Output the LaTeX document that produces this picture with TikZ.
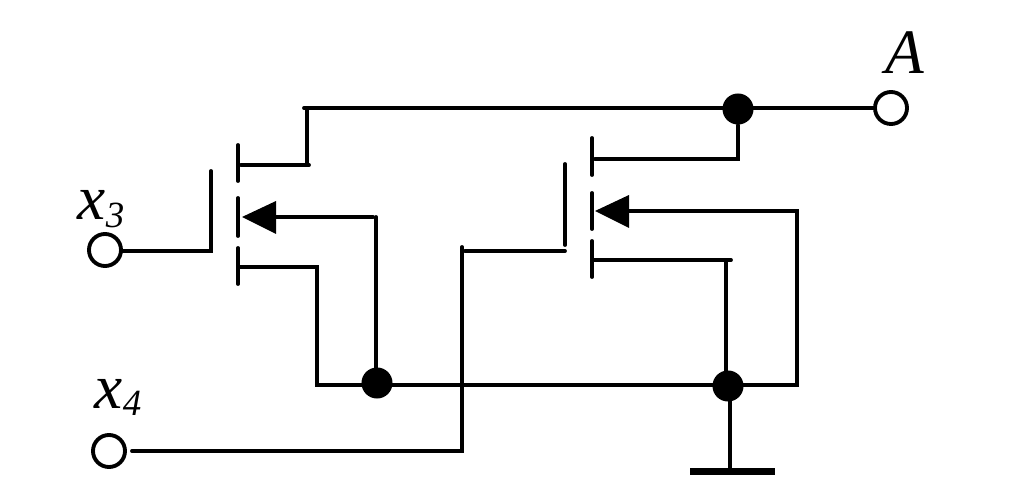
\documentclass[tikz,border=0pt]{standalone}
\usepackage{fontspec}
\setmainfont{Liberation Serif}
\newcommand{\subvar}[1]{\raisebox{-2.2pt}{\fontsize{10.5}{12}\selectfont #1}}
\begin{document}
\begin{tikzpicture}[x=0.01cm, y=-0.01cm,
        wire/.style={black, line width=1.1pt, line cap=round},
        pin/.style={circle, draw=black, line width=1.1pt, fill=white, inner sep=0pt, minimum size=0.32cm},
        junction/.style={circle, fill=black, inner sep=0pt, minimum size=0.31cm},
        varlabel/.style={inner sep=0pt, font=\fontsize{18}{20}\selectfont\itshape}]
        \useasboundingbox (0,0) rectangle (1024,482);
        % Pins and labels
        \node[pin] (x3) at (105,250) {};
        \node[pin] (x4) at (109,451) {};
        \node[pin] (A) at (891,108) {};
        \node[varlabel, anchor=base west] (labx3) at (77,220) {x\subvar{3}};
        \node[varlabel, anchor=base west] (labx4) at (94,408) {x\subvar{4}};
        \node[varlabel] (labA) at (905,53) {A};

        % Junctions
        \node[junction] (top) at (738,109) {};
        \node[junction] (mid) at (377,383) {};
        \node[junction] (gnd) at (728,386) {};

        % Left transistor
        \coordinate (g1a) at (211,171);
        \coordinate (g1b) at (211,251);
        \coordinate (g1l) at (122,251);
        \coordinate (c1a) at (238,145);
        \coordinate (c1b) at (238,181);
        \coordinate (c1c) at (238,198);
        \coordinate (c1d) at (238,236);
        \coordinate (c1e) at (238,248);
        \coordinate (c1f) at (238,284);
        \coordinate (d1a) at (241,165);
        \coordinate (d1b) at (309,165);
        \coordinate (d1c) at (307,165);
        \coordinate (d1d) at (307,110);
        \coordinate (s1a) at (238,267);
        \coordinate (s1b) at (317,267);
        \coordinate (s1c) at (317,385);
        \coordinate (b1a) at (242,217);
        \coordinate (b1b) at (276,201);
        \coordinate (b1c) at (276,234);
        \coordinate (b1d) at (275,217);
        \coordinate (b1e) at (373,217);
        \coordinate (b1f) at (376,217);
        \coordinate (b1g) at (376,383);

        % Right transistor
        \coordinate (g2a) at (565,164);
        \coordinate (g2b) at (565,245);
        \coordinate (g2c) at (565,251);
        \coordinate (c2a) at (592,138);
        \coordinate (c2b) at (592,175);
        \coordinate (c2c) at (592,193);
        \coordinate (c2d) at (592,229);
        \coordinate (c2e) at (592,241);
        \coordinate (c2f) at (592,277);
        \coordinate (d2a) at (595,159);
        \coordinate (d2b) at (738,159);
        \coordinate (s2a) at (592,260);
        \coordinate (s2b) at (731,260);
        \coordinate (s2c) at (726,260);
        \coordinate (s2d) at (726,385);
        \coordinate (b2a) at (595,211);
        \coordinate (b2b) at (629,195);
        \coordinate (b2c) at (629,228);
        \coordinate (b2d) at (628,211);
        \coordinate (b2e) at (797,211);
        \coordinate (b2f) at (797,385);

        % Other wire ends
        \coordinate (topl) at (304,108);
        \coordinate (topr) at (875,108);
        \coordinate (x4a) at (132,451);
        \coordinate (x4b) at (462,451);
        \coordinate (x4c) at (462,247);
        \coordinate (g2l) at (465,251);
        \coordinate (gnda) at (730,400);
        \coordinate (gndb) at (730,470);
        \coordinate (barl) at (690,471.5);
        \coordinate (barr) at (775,471.5);

        % Edges
        \draw[wire] (topl)--(topr);
        \draw[wire] (g1l)--(g1b)--(g1a);
        \draw[wire] (c1a)--(c1b);
        \draw[wire] (c1c)--(c1d);
        \draw[wire] (c1e)--(c1f);
        \draw[wire] (d1a)--(d1b);
        \draw[wire] (d1c)--(d1d);
        \draw[wire] (s1a)--(s1b)--(s1c)--(b2f)--(b2e)--(b2d);
        \draw[wire] (b1d)--(b1e);
        \draw[wire] (b1f)--(b1g);
        \draw[wire] (x4a)--(x4b)--(x4c);
        \draw[wire] (g2l)--(g2c);
        \draw[wire] (g2a)--(g2b);
        \draw[wire] (c2a)--(c2b);
        \draw[wire] (c2c)--(c2d);
        \draw[wire] (c2e)--(c2f);
        \draw[wire] (d2a)--(d2b)--(top);
        \draw[wire] (s2a)--(s2b);
        \draw[wire] (s2c)--(s2d);
        \draw[wire] (gnda)--(gndb);
        \draw[black, line width=1.9pt] (barl)--(barr);

        % Arrowheads
        \fill (b1a)--(b1b)--(b1c)--cycle;
        \fill (b2a)--(b2b)--(b2c)--cycle;
    \end{tikzpicture}
\end{document}
